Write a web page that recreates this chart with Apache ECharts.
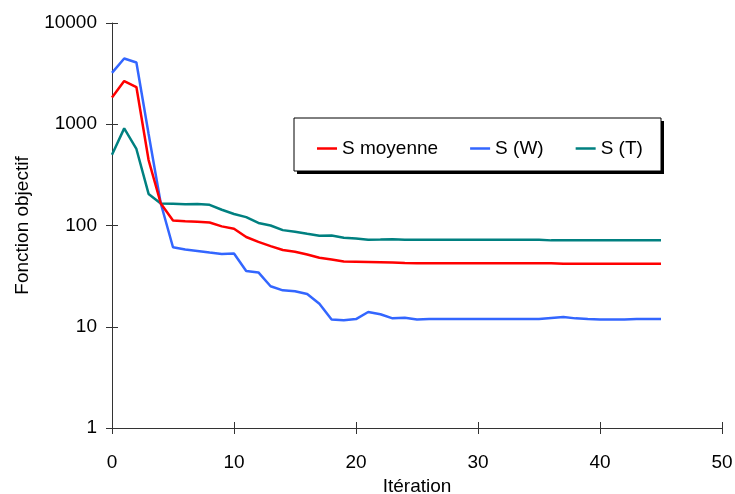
<!DOCTYPE html>
<html>
<head>
<meta charset="utf-8">
<script src="https://cdn.jsdelivr.net/npm/echarts@6/dist/echarts.min.js"></script>
<style>html,body{margin:0;padding:0;background:#fff;}#c{width:735px;height:494px;}</style>
</head>
<body>
<div id="c"></div>
<script>
const iterations = [];
for (let i = 0; i <= 45; i++) iterations.push(i);

const seriesNames = ['S moyenne', 'S (W)', 'S (T)'];

const sMoyenne = [1840, 2670, 2330, 443, 165, 112, 110, 109, 107, 98, 93, 77, 69, 62.6, 57.2, 55.1, 51.8, 48.1, 46.2, 44.2,
  43.9, 43.6, 43.3, 43.0, 42.6, 42.4, 42.4, 42.4, 42.4, 42.4, 42.4, 42.4, 42.4, 42.4, 42.4, 42.4, 42.4, 42.0, 42.0, 42.0,
  42.0, 42.0, 42.0, 42.0, 42.0, 42.0];

const sW = [3215, 4460, 4070, 800, 165, 61, 58, 56, 54, 52.2, 53, 35.5, 34.4, 25.1, 22.9, 22.4, 21.1, 16.9, 11.8, 11.6,
  11.9, 14.0, 13.3, 12.1, 12.3, 11.8, 11.9, 11.9, 11.9, 11.9, 11.9, 11.9, 11.9, 11.9, 11.9, 11.9, 12.2, 12.5, 12.1, 11.9,
  11.8, 11.8, 11.8, 11.9, 11.9, 11.9];

const sT = [500, 910, 570, 205, 165, 164, 162, 163, 160, 143, 130, 121, 106, 100, 90, 86.7, 82.8, 79.2, 79.8, 75.7,
  74.5, 72.3, 72.6, 73.0, 72.5, 72.3, 72.3, 72.3, 72.3, 72.3, 72.3, 72.3, 72.3, 72.3, 72.3, 72.3, 71.3, 71.3, 71.3, 71.3,
  71.3, 71.3, 71.3, 71.3, 71.3, 71.3];

const yTicks = [1, 10, 100, 1000, 10000];
const xTicks = [0, 10, 20, 30, 40, 50];

const colors = ['#FF0000', '#3366FF', '#008080'];
const font = 'Liberation Sans, Arial, sans-serif';
const axisColor = '#333';

function pairs(vals) { return iterations.map((x, i) => [x, vals[i]]); }

const xBase = { type: 'value', min: xTicks[0], max: xTicks[xTicks.length - 1], interval: 10, position: 'bottom', splitLine: { show: false } };
const yBase = { type: 'log', logBase: 10, min: yTicks[0], max: yTicks[yTicks.length - 1], position: 'left', splitLine: { show: false }, minorTick: { show: false } };

const chart = echarts.init(document.getElementById('c'), null, { renderer: 'canvas' });
chart.setOption({
  animation: false,
  backgroundColor: '#fff',
  textStyle: { fontFamily: font },
  grid: { left: 112, top: 23, width: 610, height: 405, containLabel: false, outerBoundsMode: 'none' },
  xAxis: [
    Object.assign({}, xBase, {
      name: 'Itération', nameLocation: 'middle', nameGap: 49,
      nameTextStyle: { fontSize: 19, color: '#000', fontFamily: font },
      axisLine: { onZero: false, lineStyle: { color: axisColor, width: 1 } },
      axisTick: { show: true, inside: false, length: 6, lineStyle: { color: axisColor } },
      axisLabel: { fontSize: 19, color: '#000', margin: 25, fontFamily: font }
    }),
    Object.assign({}, xBase, {
      axisLine: { show: false, onZero: false },
      axisTick: { show: true, inside: true, length: 6, lineStyle: { color: axisColor } },
      axisLabel: { show: false }
    })
  ],
  yAxis: [
    Object.assign({}, yBase, {
      name: 'Fonction objectif', nameLocation: 'middle', nameGap: 80,
      nameTextStyle: { fontSize: 19, color: '#000', fontFamily: font },
      axisLine: { show: true, lineStyle: { color: axisColor, width: 1 } },
      axisTick: { show: true, inside: false, length: 6, lineStyle: { color: axisColor } },
      axisLabel: { fontSize: 19, color: '#000', margin: 15, fontFamily: font, formatter: v => String(v) }
    }),
    Object.assign({}, yBase, {
      axisLine: { show: false },
      axisTick: { show: true, inside: true, length: 6, lineStyle: { color: axisColor } },
      axisLabel: { show: false }
    })
  ],
  legend: {
    data: seriesNames,
    left: 312, top: 134, z: 200,
    icon: 'rect', itemWidth: 20, itemHeight: 2.5, itemGap: 32,
    textStyle: { fontSize: 19, color: '#000', fontFamily: font }
  },
  graphic: [
    { type: 'rect', shape: { x: 297, y: 121, width: 367, height: 53 }, style: { fill: '#000' }, z: 100 },
    { type: 'rect', shape: { x: 294, y: 118, width: 367, height: 53 }, style: { fill: '#fff', stroke: '#000', lineWidth: 1 }, z: 101 }
  ],
  series: [
    { name: seriesNames[0], type: 'line', data: pairs(sMoyenne), symbol: 'none', lineStyle: { color: colors[0], width: 2.5 }, itemStyle: { color: colors[0] }, z: 3 },
    { name: seriesNames[1], type: 'line', data: pairs(sW), symbol: 'none', lineStyle: { color: colors[1], width: 2.5 }, itemStyle: { color: colors[1] }, z: 2 },
    { name: seriesNames[2], type: 'line', data: pairs(sT), symbol: 'none', lineStyle: { color: colors[2], width: 2.5 }, itemStyle: { color: colors[2] }, z: 1 }
  ]
});
</script>
</body>
</html>
